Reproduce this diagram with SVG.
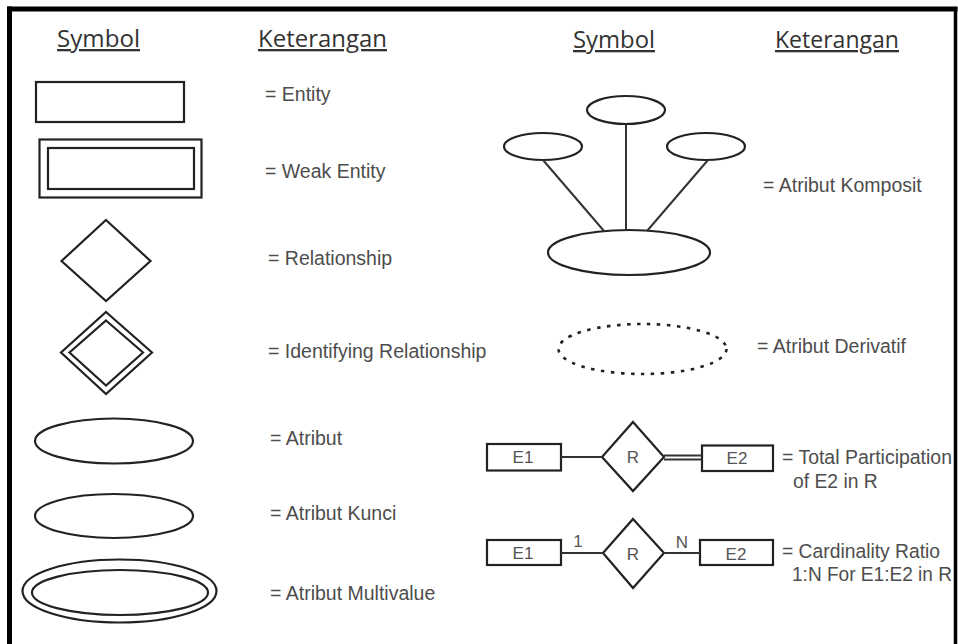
<svg xmlns="http://www.w3.org/2000/svg" width="958" height="644" viewBox="0 0 958 644">
<style>
.bg{fill:#fff}
.sh{fill:none;stroke:#222;stroke-width:2.2}
.ln{fill:none;stroke:#333;stroke-width:2}
.hd{font-family:"Open Sans","Liberation Sans",sans-serif;font-size:23px;fill:#333;text-decoration:underline}
.tx{font-family:"Liberation Sans",Arial,sans-serif;font-size:19.5px;fill:#4d4d4d}
.sm{font-family:"Liberation Sans",Arial,sans-serif;font-size:19.3px;fill:#4d4d4d}
.lb{font-family:"Liberation Sans",Arial,sans-serif;font-size:17px;fill:#555;text-anchor:middle}
.dot{fill:none;stroke:#222;stroke-width:2.6;stroke-dasharray:3.5 6.5}
</style>
<rect class="bg" x="0" y="0" width="958" height="644"/>
<g id="headings">
<text class="hd" x="57" y="47" textLength="83" lengthAdjust="spacingAndGlyphs">Symbol</text>
<text class="hd" x="258" y="47" textLength="129" lengthAdjust="spacingAndGlyphs">Keterangan</text>
<text class="hd" x="573" y="48" textLength="82" lengthAdjust="spacingAndGlyphs">Symbol</text>
<text class="hd" x="775" y="48" textLength="124" lengthAdjust="spacingAndGlyphs">Keterangan</text>
</g>
<g id="entity">
<rect class="sh" x="36" y="82" width="148" height="40"/>
<text class="tx" x="265" y="101">= Entity</text>
</g>
<g id="weak-entity">
<rect class="sh" x="39.5" y="139.5" width="162" height="58"/>
<rect class="sh" x="48" y="148" width="146" height="41"/>
<text class="tx" x="265" y="178">= Weak Entity</text>
</g>
<g id="relationship">
<polygon class="sh" points="106,220 150.5,261 106,301 61.5,261"/>
<text class="tx" x="268" y="265">= Relationship</text>
</g>
<g id="identifying-relationship">
<polygon class="sh" points="106,312 152,352.5 106,394 61,352.5"/>
<polygon class="sh" points="106,320.5 143,352.5 106,385.5 69.5,352.5"/>
<text class="tx" x="268" y="358">= Identifying Relationship</text>
</g>
<g id="atribut">
<ellipse class="sh" cx="114" cy="441" rx="79" ry="22.5"/>
<text class="tx" x="270" y="445">= Atribut</text>
</g>
<g id="atribut-kunci">
<ellipse class="sh" cx="114" cy="516" rx="79" ry="22"/>
<text class="tx" x="270" y="520">= Atribut Kunci</text>
</g>
<g id="atribut-multivalue">
<ellipse class="sh" cx="119.5" cy="591" rx="97" ry="31.5"/>
<ellipse class="sh" cx="120" cy="592.5" rx="88" ry="22.5"/>
<text class="tx" x="270" y="600">= Atribut Multivalue</text>
</g>
<g id="atribut-komposit">
<ellipse class="sh" cx="626" cy="110" rx="39" ry="14"/>
<ellipse class="sh" cx="543" cy="146.5" rx="39" ry="13.5"/>
<ellipse class="sh" cx="706" cy="146.5" rx="39" ry="13.5"/>
<ellipse class="sh" cx="629" cy="252.5" rx="81" ry="22.5"/>
<text class="tx" x="763" y="192">= Atribut Komposit</text>
</g>
<g id="atribut-derivatif">
<ellipse class="dot" cx="642.5" cy="349" rx="84" ry="25"/>
<text class="tx" x="757" y="353">= Atribut Derivatif</text>
</g>
<g id="total-e1">
<rect class="sh" x="487" y="444" width="74" height="26.5"/>
<text class="lb" x="523" y="463">E1</text>
</g>
<g id="total-r">
<polygon class="sh" points="633,422 664,457 633,491 602,457"/>
<text class="lb" x="633" y="463">R</text>
</g>
<g id="total-e2">
<rect class="sh" x="702" y="445.5" width="71" height="25.5"/>
<text class="lb" x="737" y="464">E2</text>
<text class="sm" x="782" y="464" textLength="170" lengthAdjust="spacingAndGlyphs">= Total Participation</text>
<text class="sm" x="793" y="488">of E2 in R</text>
</g>
<g id="card-e1">
<rect class="sh" x="487" y="540" width="74" height="25"/>
<text class="lb" x="523" y="559">E1</text>
</g>
<g id="card-r">
<polygon class="sh" points="633,519 664,553 633,588 603,553"/>
<text class="lb" x="633" y="560">R</text>
</g>
<g id="card-e2">
<rect class="sh" x="700" y="540" width="73" height="25"/>
<text class="lb" x="736" y="560">E2</text>
<text class="sm" x="782" y="558">= Cardinality Ratio</text>
<text class="sm" x="792" y="581" textLength="160" lengthAdjust="spacingAndGlyphs">1:N For E1:E2 in R</text>
</g>
<g id="connectors">
<line class="ln" x1="626" y1="124" x2="626" y2="230"/>
<line class="ln" x1="543" y1="160" x2="604" y2="231"/>
<line class="ln" x1="708" y1="160" x2="647" y2="231"/>
<line class="ln" x1="561" y1="457" x2="602" y2="457"/>
<line class="ln" x1="664" y1="455.5" x2="702" y2="455.5"/>
<line class="ln" x1="664" y1="459.5" x2="702" y2="459.5"/>
<line class="ln" x1="561" y1="553" x2="603" y2="553"/>
<line class="ln" x1="664" y1="553" x2="700" y2="553"/>
<text class="lb" x="578" y="547">1</text>
<text class="lb" x="682" y="548">N</text>
</g>
<g id="border">
<line x1="9.5" y1="6.5" x2="9.5" y2="644" stroke="#000" stroke-width="5"/>
<line x1="7" y1="9" x2="957.5" y2="9" stroke="#000" stroke-width="5"/>
<line x1="955.5" y1="7" x2="955.5" y2="644" stroke="#000" stroke-width="3.5"/>
</g>
</svg>
